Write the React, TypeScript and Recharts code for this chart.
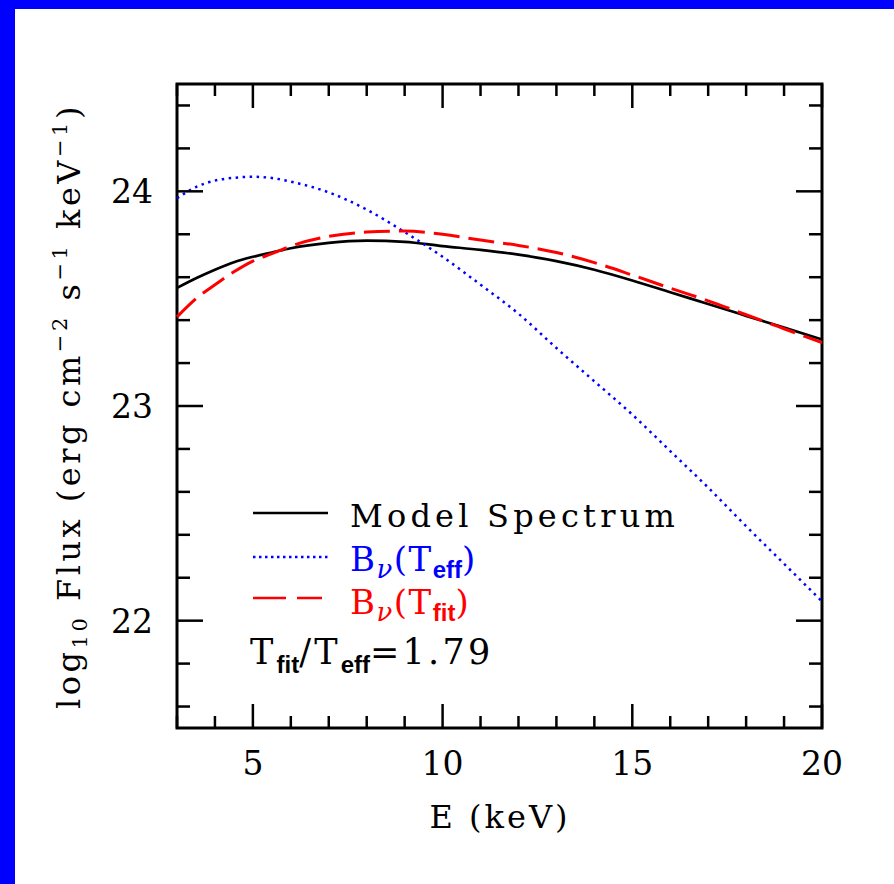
import React from "react";
import { LineChart, Line, XAxis, YAxis, ReferenceArea } from "recharts";

// photon energy (keV) and log10 flux
const energy = [3, 3.5, 4, 4.5, 5, 5.5, 6, 7, 8, 9, 10, 11, 12, 13, 14, 15, 16, 17, 18, 19, 20];
const modelFlux = [
  23.55, 23.595, 23.635, 23.67, 23.695, 23.715, 23.735, 23.76, 23.77, 23.765, 23.745,
  23.727, 23.705, 23.675, 23.635, 23.585, 23.53, 23.475, 23.42, 23.365, 23.31,
];
const effFlux = [
  23.968, 24.02, 24.05, 24.063, 24.068, 24.062, 24.045, 23.995, 23.915, 23.81, 23.695,
  23.565, 23.43, 23.27, 23.115, 22.96, 22.79, 22.62, 22.44, 22.265, 22.09,
];
const fitFlux = [
  23.415, 23.5, 23.565, 23.625, 23.675, 23.71, 23.745, 23.79, 23.81, 23.815, 23.8,
  23.773, 23.748, 23.715, 23.668, 23.61, 23.549, 23.49, 23.425, 23.36, 23.295,
];

const xTicks = [3, 4, 5, 6, 7, 8, 9, 10, 11, 12, 13, 14, 15, 16, 17, 18, 19, 20];
const xLabels = [5, 10, 15, 20];
const yTicks = [
  21.6, 21.8, 22, 22.2, 22.4, 22.6, 22.8, 23, 23.2, 23.4, 23.6, 23.8, 24, 24.2, 24.4,
];
const yLabels = [22, 23, 24];

const data = energy.map((e, i) => ({
  e,
  model: modelFlux[i],
  eff: effFlux[i],
  fit: fitFlux[i],
}));

const W = 894;
const H = 884;
const PLOT_W = 645;
const PLOT_H = 644;
const SERIF = "'DejaVu Serif', serif";
const SANS = "'Liberation Sans', Arial, sans-serif";

const XTick = (props: any) => {
  const { x, y, payload } = props;
  const major = xLabels.includes(payload.value);
  const len = major ? 24 : 12;
  return (
    <g>
      <line x1={x} y1={y} x2={x} y2={y - len} stroke="#000" strokeWidth={2.5} />
      <line x1={x} y1={y - PLOT_H} x2={x} y2={y - PLOT_H + len} stroke="#000" strokeWidth={2.5} />
      {major && (
        <text x={x} y={y + 47} textAnchor="middle" fontFamily={SERIF} fontSize={33} fill="#000">
          {payload.value}
        </text>
      )}
    </g>
  );
};

const YTick = (props: any) => {
  const { x, y, payload } = props;
  const v = Math.round(payload.value * 10) / 10;
  const major = yLabels.includes(v);
  const len = major ? 26 : 13;
  return (
    <g>
      <line x1={x} y1={y} x2={x + len} y2={y} stroke="#000" strokeWidth={2.5} />
      <line x1={x + PLOT_W} y1={y} x2={x + PLOT_W - len} y2={y} stroke="#000" strokeWidth={2.5} />
      {major && (
        <text x={x - 24} y={y + 12} textAnchor="end" fontFamily={SERIF} fontSize={33} fill="#000">
          {v}
        </text>
      )}
    </g>
  );
};

function Overlay() {
  const sub = { fontFamily: SANS, fontWeight: 700, fontSize: 24, letterSpacing: 0 } as const;
  const nu = { fontFamily: SERIF, fontStyle: "italic", fontSize: 26 } as const;
  return (
    <svg
      width={W}
      height={H}
      style={{ position: "absolute", left: 0, top: 0, pointerEvents: "none" }}
    >
      <g fontFamily={SERIF} fontSize={32}>
        {/* axis titles */}
        <text x={500} y={828} textAnchor="middle" letterSpacing={3}>
          E (keV)
        </text>
        <text
          x={80}
          y={406}
          textAnchor="middle"
          letterSpacing={3.5}
          transform="rotate(-90 80 406)"
        >
          log
          <tspan fontSize={21} dy={7}>10</tspan>
          <tspan dy={-7}> Flux (erg cm</tspan>
          <tspan fontSize={21} dy={-13}>−2</tspan>
          <tspan dy={13}> s</tspan>
          <tspan fontSize={21} dy={-13}>−1</tspan>
          <tspan dy={13}> keV</tspan>
          <tspan fontSize={21} dy={-13}>−1</tspan>
          <tspan dy={13}>)</tspan>
        </text>

        {/* legend */}
        <line x1={253} y1={513} x2={328} y2={513} stroke="#000" strokeWidth={2.5} />
        <text x={350} y={527} letterSpacing={4.2}>
          Model Spectrum
        </text>

        <line
          x1={253}
          y1={557}
          x2={328}
          y2={557}
          stroke="#0000ff"
          strokeWidth={2.5}
          strokeDasharray="2.5 3.5"
        />
        <text x={350} y={571} fill="#0000ff" fontFamily={SERIF} fontSize={34} letterSpacing={1.5}>
          B
          <tspan {...nu} dy={7}>ν</tspan>
          <tspan dy={-7}>(T</tspan>
          <tspan {...sub} dy={7}>eff</tspan>
          <tspan dy={-7}>)</tspan>
        </text>

        <line
          x1={253}
          y1={598}
          x2={322}
          y2={598}
          stroke="#ff0000"
          strokeWidth={2.5}
          strokeDasharray="33 11"
        />
        <text x={350} y={614} fill="#ff0000" fontFamily={SERIF} fontSize={34} letterSpacing={1.5}>
          B
          <tspan {...nu} dy={7}>ν</tspan>
          <tspan dy={-7}>(T</tspan>
          <tspan {...sub} dy={7}>fit</tspan>
          <tspan dy={-7}>)</tspan>
        </text>

        <text x={250} y={664} fill="#000" fontFamily={SERIF} fontSize={35} letterSpacing={3.2}>
          T
          <tspan {...sub} dy={9}>fit</tspan>
          <tspan dy={-9}>/T</tspan>
          <tspan {...sub} dy={9}>eff</tspan>
          <tspan dy={-9}>=1.79</tspan>
        </text>
      </g>
    </svg>
  );
}

export default function App() {
  return (
    <div
      style={{
        position: "absolute",
        left: 0,
        top: 0,
        width: W,
        height: H,
        background: "#fff",
        overflow: "hidden",
      }}
    >
      <LineChart
        width={W}
        height={H}
        data={data}
        margin={{ top: 84, right: 72, bottom: 116, left: 117 }}
      >
        <XAxis
          dataKey="e"
          type="number"
          domain={[3, 20]}
          ticks={xTicks}
          interval={0}
          height={40}
          tick={<XTick />}
          tickLine={false}
          axisLine={false}
          tickSize={0}
          tickMargin={0}
        />
        <YAxis
          type="number"
          domain={[21.5, 24.5]}
          ticks={yTicks}
          interval={0}
          width={60}
          tick={<YTick />}
          tickLine={false}
          axisLine={false}
          tickSize={0}
          tickMargin={0}
          allowDataOverflow
        />
        <ReferenceArea
          x1={3}
          x2={20}
          y1={21.5}
          y2={24.5}
          fill="none"
          fillOpacity={0}
          stroke="#000"
          strokeWidth={3}
        />
        <Line
          type="monotone"
          dataKey="model"
          stroke="#000"
          strokeWidth={2.7}
          dot={false}
          isAnimationActive={false}
        />
        <Line
          type="monotone"
          dataKey="eff"
          stroke="#0000ff"
          strokeWidth={2.5}
          strokeDasharray="2.5 4.5"
          dot={false}
          isAnimationActive={false}
        />
        <Line
          type="monotone"
          dataKey="fit"
          stroke="#ff0000"
          strokeWidth={3}
          strokeDasharray="26 9"
          dot={false}
          isAnimationActive={false}
        />
      </LineChart>
      <Overlay />
      <div style={{ position: "absolute", left: 0, top: 0, width: W, height: 9, background: "#0000ff" }} />
      <div style={{ position: "absolute", left: 0, top: 0, width: 15, height: H, background: "#0000ff" }} />
    </div>
  );
}
